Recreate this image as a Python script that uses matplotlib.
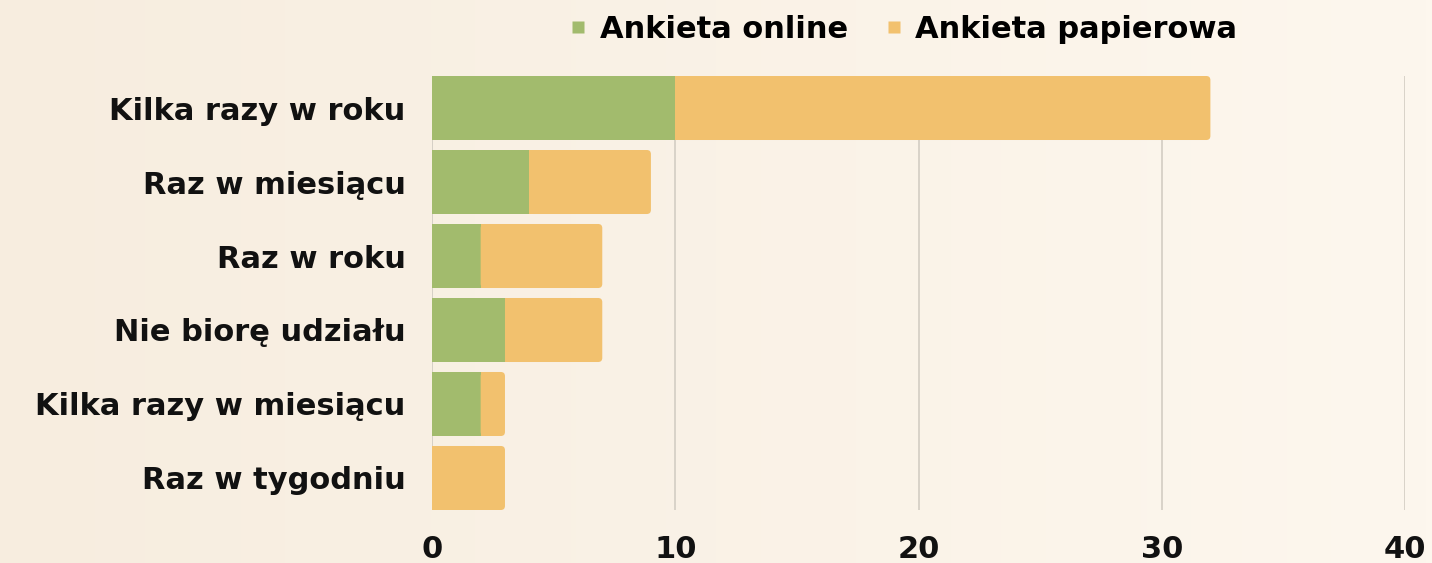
import numpy as np
import matplotlib
matplotlib.use("Agg")
import matplotlib.pyplot as plt
from matplotlib.patches import FancyBboxPatch
from matplotlib.lines import Line2D

categories = ["Kilka razy w roku", "Raz w miesiącu", "Raz w roku",
              "Nie biorę udziału", "Kilka razy w miesiącu", "Raz w tygodniu"]
online = [10, 4, 2, 3, 2, 0]
papier = [22, 5, 5, 4, 1, 3]
series_names = ["Ankieta online", "Ankieta papierowa"]
xticks = [0, 10, 20, 30, 40]

GREEN = "#a2bb6d"
ORANGE = "#f2c16e"
FONT = "DejaVu Sans"
FS = 22

W, H, DPI = 1432, 563, 100
fig = plt.figure(figsize=(W / DPI, H / DPI), dpi=DPI)

# background gradient
bg = fig.add_axes([0, 0, 1, 1], zorder=-10)
grad = np.linspace(0, 1, 256)
c0 = np.array([0xf7, 0xed, 0xdf]) / 255
c1 = np.array([0xfd, 0xf7, 0xee]) / 255
img = c0[None, None, :] * (1 - grad[None, :, None]) + c1[None, None, :] * grad[None, :, None]
img = np.repeat(img, 2, axis=0)
bg.imshow(img, aspect="auto", extent=[0, 1, 0, 1])
bg.axis("off")

top_px, bot_px = 76, 510
ax = fig.add_axes([432 / W, 1 - bot_px / H, (1405 - 432) / W, (bot_px - top_px) / H])
ax.set_facecolor("none")
n = len(categories)
y = np.arange(n)
h = 0.865
ax.set_xlim(0, 40)
ax.set_ylim(n - 1 + h / 2, -h / 2)

ax.barh(y, online, height=h, color=GREEN, zorder=3)
r_x = 0.17
pitch_px = (bot_px - top_px) / (n - 1 + h)
aspect = (1 / pitch_px) / (40 / (1405 - 432))
for yi, o, p in zip(y, online, papier):
    if p <= 0:
        continue
    patch = FancyBboxPatch((o, yi - h / 2), p, h,
                           boxstyle=f"round,pad=0,rounding_size={r_x}",
                           mutation_aspect=aspect,
                           facecolor=ORANGE, edgecolor="none", zorder=3)
    ax.add_patch(patch)
    ax.barh(yi, p - 0.5, left=o, height=h, color=ORANGE, zorder=3.1)

ax.set_xticks(xticks)
ax.set_xticklabels([str(t) for t in xticks])
ax.set_yticks(y)
ax.set_yticklabels(categories)
ax.tick_params(axis="both", length=0)
ax.tick_params(axis="y", pad=19)
ax.tick_params(axis="x", pad=18)
for lab in ax.get_xticklabels() + ax.get_yticklabels():
    lab.set_fontfamily(FONT)
    lab.set_fontweight("bold")
    lab.set_fontsize(FS)
    lab.set_color("#111111")
ax.grid(axis="x", color="#d6d0c6", linewidth=1.3, zorder=0)
for s in ax.spines.values():
    s.set_visible(False)
ax.axvline(0, color="#d6d0c6", linewidth=1.3, zorder=0)

handles = [Line2D([0], [0], marker="s", linestyle="none", markersize=8,
                  markerfacecolor=c, markeredgecolor="none") for c in (GREEN, ORANGE)]
fig.legend(handles, series_names, loc="center", bbox_to_anchor=(900 / W, 1 - 29 / H),
           ncol=2, frameon=False, handletextpad=0.2, handlelength=1.0, columnspacing=1.0,
           prop={"family": FONT, "weight": "bold", "size": FS})

fig.savefig("out.png", dpi=DPI)
